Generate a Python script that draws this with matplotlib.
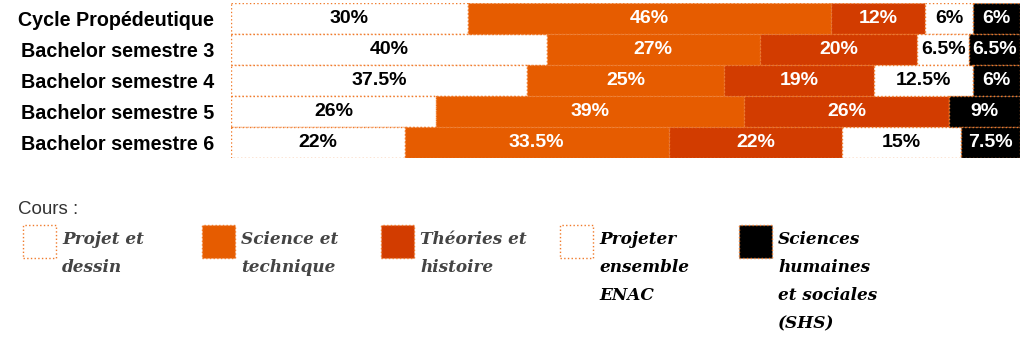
import matplotlib.pyplot as plt
from matplotlib.patches import Rectangle

rows = ['Cycle Propédeutique', 'Bachelor semestre 3', 'Bachelor semestre 4',
        'Bachelor semestre 5', 'Bachelor semestre 6']
projet = [30, 40, 37.5, 26, 22]
science = [46, 27, 25, 39, 33.5]
theories = [12, 20, 19, 26, 22]
enac = [6, 6.5, 12.5, 0, 15]
shs = [6, 6.5, 6, 9, 7.5]

courses = ['Projet et\ndessin', 'Science et\ntechnique', 'Théories et\nhistoire',
           'Projeter\nensemble\nENAC', 'Sciences\nhumaines\net sociales\n(SHS)']
fills = ['white', '#e65c00', '#d23c00', 'white', 'black']
label_colors = ['black', 'white', 'white', 'black', 'white']
legend_text_colors = ['#444444', '#444444', '#444444', 'black', 'black']
series = [projet, science, theories, enac, shs]

ORANGE = '#f07a2a'
W, H = 1024, 338
fig = plt.figure(figsize=(W / 100, H / 100), dpi=100)
ax = fig.add_axes([231 / W, 1 - 158 / H, (1020 - 231) / W, 155 / H])

y = list(range(len(rows)))
left = [0] * len(rows)
for vals, fc, tc in zip(series, fills, label_colors):
    bars = ax.barh(y, vals, left=left, height=1, color=fc, edgecolor=ORANGE,
                   linestyle=':', linewidth=1)
    for b, v in zip(bars, vals):
        if v == 0:
            continue
        txt = f'{v:g}%'
        ax.text(b.get_x() + b.get_width() / 2, b.get_y() + b.get_height() / 2,
                txt, ha='center', va='center', color=tc, fontsize=14,
                fontweight='bold', family='Liberation Sans')
    left = [l + v for l, v in zip(left, vals)]

ax.set_xlim(0, 100)
ax.set_ylim(len(rows) - 0.5, -0.5)
ax.set_yticks(y)
ax.set_yticklabels(rows, fontsize=14.2, fontweight='bold', family='Liberation Sans')
ax.tick_params(axis='y', length=0, pad=12)
ax.set_xticks([])
for s in ax.spines.values():
    s.set_visible(False)

# legend block underneath
fig.text(18 / W, 1 - 210 / H, 'Cours :', fontsize=13.5, color='#333333',
         family='Liberation Sans', va='center')
for i, (name, fc, tc) in enumerate(zip(courses, fills, legend_text_colors)):
    x0 = 23 + i * 179
    fig.patches.append(Rectangle((x0 / W, 1 - 258 / H), 33 / W, 33 / H,
                                 transform=fig.transFigure, facecolor=fc,
                                 edgecolor=ORANGE, linestyle=':', linewidth=1))
    for j, line in enumerate(name.split('\n')):
        fig.text((x0 + 39) / W, 1 - (240 + j * 28) / H, line, fontsize=12.2,
                 color=tc, family='DejaVu Serif', style='italic',
                 fontweight='bold', va='center')

fig.savefig('out.png', dpi=100, facecolor='white')
